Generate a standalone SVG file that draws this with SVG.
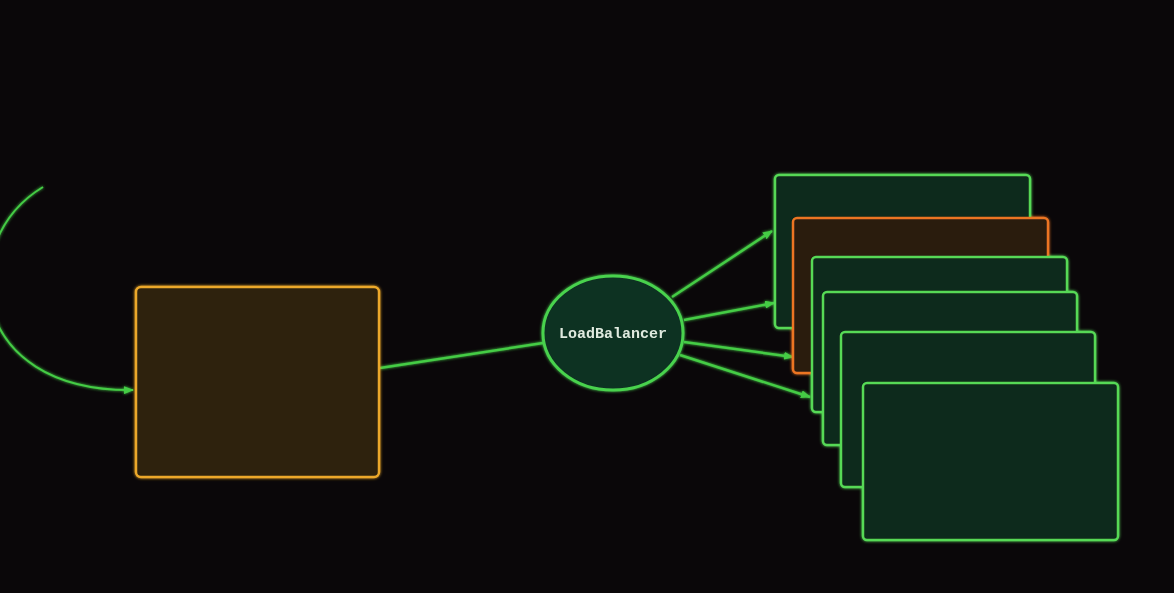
<svg xmlns="http://www.w3.org/2000/svg" width="1174" height="593" viewBox="0 0 1174 593">
<style>
.g{fill:#10291a;stroke:#56d956;stroke-width:2.5}
.o{fill:#2b1c11;stroke:#ec7424;stroke-width:2.5}
.y{fill:#2e240f;stroke:#eca82a;stroke-width:2.5}
.c{fill:none;stroke:#44cc45;stroke-width:2.5}
.lbl{font-family:"Liberation Mono","DejaVu Sans Mono",monospace;font-size:15px;font-weight:bold;fill:#dfeadf}
</style>
<defs>
<filter id="glow" x="-20%" y="-20%" width="140%" height="140%">
<feGaussianBlur in="SourceGraphic" stdDeviation="1.8" result="b"/>
<feMerge><feMergeNode in="b"/><feMergeNode in="SourceGraphic"/></feMerge>
</filter>
<marker id="ah" markerWidth="10" markerHeight="8" refX="9" refY="4" orient="auto" markerUnits="userSpaceOnUse">
<path d="M0,0 L10,4 L0,8 Z" fill="#44cc45"/>
</marker>
</defs>
<rect width="1174" height="593" fill="#0a0709"/>
<g id="connectors" filter="url(#glow)">
<path class="c" style="stroke-width:2" d="M43,187 C-45,240 -35,392 133,390" marker-end="url(#ah)"/>
<line class="c" x1="380" y1="368" x2="543" y2="343"/>
<line class="c" x1="672" y1="297" x2="772" y2="231" marker-end="url(#ah)"/>
<line class="c" x1="684" y1="320" x2="774" y2="303" marker-end="url(#ah)"/>
<line class="c" x1="684" y1="342" x2="793" y2="357" marker-end="url(#ah)"/>
<line class="c" x1="680" y1="355" x2="810" y2="397" marker-end="url(#ah)"/>
</g>
<g id="source" filter="url(#glow)">
<rect class="y" x="136" y="287" width="243" height="190" rx="5"/>
</g>
<g id="loadbalancer" filter="url(#glow)">
<ellipse cx="613" cy="333" rx="70" ry="57" fill="#0e3020" stroke="#48d24e" stroke-width="3"/>
<text class="lbl" x="613" y="338" text-anchor="middle">LoadBalancer</text>
</g>
<g id="servers" filter="url(#glow)">
<g id="server1"><rect class="g" x="775" y="175" width="255" height="153" rx="4"/></g>
<g id="server2"><rect class="o" x="793" y="218" width="255" height="155" rx="4"/></g>
<g id="server3"><rect class="g" x="812" y="257" width="255" height="155" rx="4"/></g>
<g id="server4"><rect class="g" x="823" y="292" width="254" height="153" rx="4"/></g>
<g id="server5"><rect class="g" x="841" y="332" width="254" height="155" rx="4"/></g>
<g id="server6"><rect class="g" x="863" y="383" width="255" height="157" rx="4"/></g>
</g>
</svg>
